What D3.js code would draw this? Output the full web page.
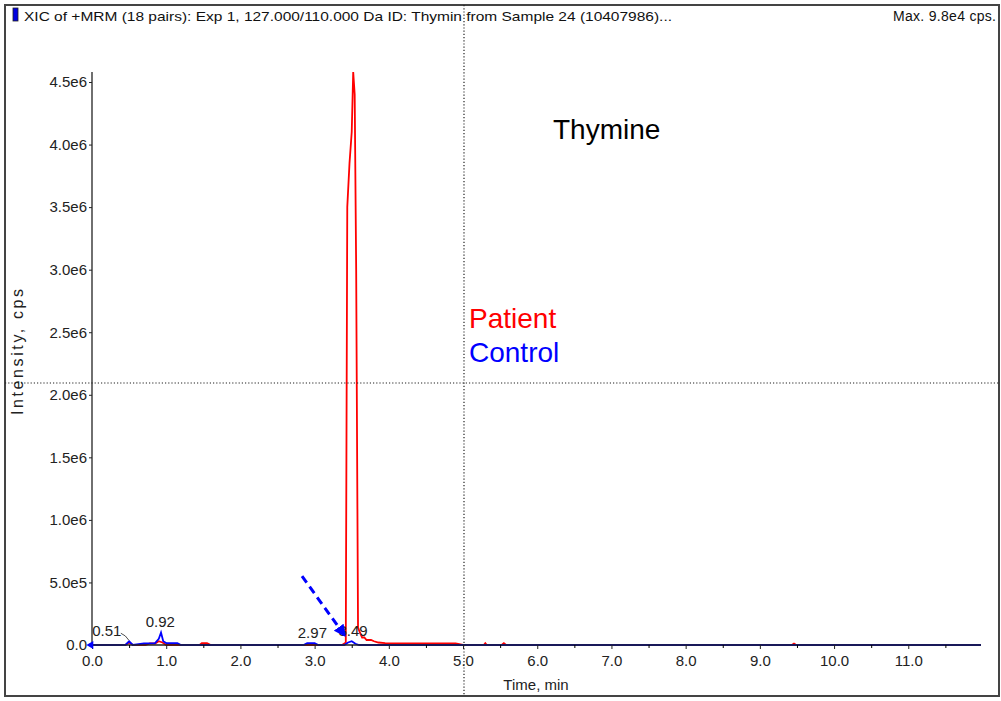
<!DOCTYPE html>
<html>
<head>
<meta charset="utf-8">
<script src="https://cdn.jsdelivr.net/npm/d3@7"></script>
<style>
  body { margin: 0; background: #fff; }
  text { font-family: "Liberation Sans", Arial, sans-serif; }
</style>
</head>
<body>
<script>
// chromatogram traces (time in min, intensity in cps)
var patientTime = [0, 0.45, 0.5, 0.55, 0.72, 0.78, 0.85, 0.9, 0.95, 1.0, 1.05, 1.45, 1.48, 1.55, 1.6, 3.3, 3.37, 3.42, 3.44, 3.47, 3.5, 3.52, 3.54, 3.56, 3.585, 3.61, 3.64, 3.67, 3.7, 3.76, 3.8, 3.86, 3.95, 4.05, 4.9, 5.0, 5.28, 5.3, 5.32, 5.52, 5.55, 5.58, 9.43, 9.46, 9.49, 11.98];
var patientCps  = [0, 0, 0.02e6, 0, 0, 0.012e6, 0.012e6, 0.03e6, 0.02e6, 0, 0, 0, 0.015e6, 0.015e6, 0, 0, 0, 0.02e6, 3.5e6, 3.85e6, 4.1e6, 4.58e6, 4.4e6, 3.0e6, 0.14e6, 0.1e6, 0.06e6, 0.06e6, 0.04e6, 0.04e6, 0.03e6, 0.02e6, 0.015e6, 0.012e6, 0.012e6, 0, 0, 0.015e6, 0, 0, 0.015e6, 0, 0, 0.012e6, 0, 0];

var controlTime = [0, 0.45, 0.5, 0.55, 0.7, 0.85, 0.9, 0.93, 0.96, 1.0, 1.15, 1.2, 2.85, 2.9, 3.0, 3.05, 3.4, 3.45, 3.5, 3.55, 3.6, 11.98];
var controlCps  = [0, 0, 0.03e6, 0, 0.012e6, 0.015e6, 0.05e6, 0.1e6, 0.03e6, 0.015e6, 0.015e6, 0, 0, 0.015e6, 0.015e6, 0, 0, 0.02e6, 0.03e6, 0.01e6, 0, 0];

var peakLabels = [
  {t: 0.51, v: 0.03e6, text: "0.51"},
  {t: 0.92, v: 0.1e6, text: "0.92"},
  {t: 2.97, v: 0.015e6, text: "2.97"},
  {t: 3.49, v: 0.03e6, text: "3.49"}
];

var xTicks = [0, 1, 2, 3, 4, 5, 6, 7, 8, 9, 10, 11];
var xTickLabels = ["0.0", "1.0", "2.0", "3.0", "4.0", "5.0", "6.0", "7.0", "8.0", "9.0", "10.0", "11.0"];
var yTicks = [0, 0.5e6, 1.0e6, 1.5e6, 2.0e6, 2.5e6, 3.0e6, 3.5e6, 4.0e6, 4.5e6];
var yTickLabels = ["0.0", "5.0e5", "1.0e6", "1.5e6", "2.0e6", "2.5e6", "3.0e6", "3.5e6", "4.0e6", "4.5e6"];

var arrowFrom = [2.83, 0.55e6];
var arrowTo = [3.40, 0.08e6];

var width = 1001, height = 701;
var margin = {top: 72, left: 92, right: 20, bottom: 56};

var svg = d3.select("body").append("svg")
    .attr("width", width)
    .attr("height", height);

var xScale = d3.scaleLinear()
    .domain([0, 11.98])
    .range([margin.left, width - margin.right]);

var yScale = d3.scaleLinear()
    .domain([0, 4.58e6])
    .range([height - margin.bottom, margin.top]);

// outer frame
svg.append("rect")
    .attr("x", 5).attr("y", 5)
    .attr("width", 994).attr("height", 691)
    .attr("fill", "none")
    .attr("stroke", "#444")
    .attr("stroke-width", 2);

// title bar
svg.append("rect")
    .attr("x", 13).attr("y", 8)
    .attr("width", 5).attr("height", 13)
    .attr("fill", "#0000e0")
    .attr("stroke", "#222")
    .attr("stroke-width", 0.8);

svg.append("text")
    .attr("x", 24).attr("y", 21)
    .attr("textLength", 648)
    .attr("lengthAdjust", "spacingAndGlyphs")
    .style("font-size", "13px")
    .attr("fill", "#111")
    .text("XIC of +MRM (18 pairs): Exp 1, 127.000/110.000 Da ID: Thymin from Sample 24 (10407986)...");

svg.append("text")
    .attr("x", 996).attr("y", 21)
    .attr("text-anchor", "end")
    .attr("textLength", 103)
    .style("font-size", "14px")
    .attr("fill", "#111")
    .text("Max. 9.8e4 cps.");

// traces
var line = d3.line()
    .x(function(d) { return xScale(d[0]); })
    .y(function(d) { return yScale(d[1]); });

var patient = patientTime.map(function(t, i) { return [t, patientCps[i]]; });
var control = controlTime.map(function(t, i) { return [t, controlCps[i]]; });

svg.append("path")
    .datum(patient)
    .attr("fill", "none")
    .attr("stroke", "#ff0000")
    .attr("stroke-width", 1.8)
    .attr("d", line);

svg.append("path")
    .datum(control)
    .attr("fill", "none")
    .attr("stroke", "#0000ff")
    .attr("stroke-width", 1.8)
    .attr("d", line);

// axes
var xAxis = svg.append("g")
    .attr("transform", `translate(0,${height - margin.bottom})`)
    .call(d3.axisBottom(xScale).tickValues(xTicks).tickSize(4)
        .tickFormat(function(d, i) { return xTickLabels[i]; }));

var yAxis = svg.append("g")
    .attr("transform", `translate(${margin.left},0)`)
    .call(d3.axisLeft(yScale).tickValues(yTicks).tickSize(3)
        .tickFormat(function(d, i) { return yTickLabels[i]; }));

// minor x ticks at half minutes
svg.append("g")
    .attr("transform", `translate(0,${height - margin.bottom})`)
    .call(d3.axisBottom(xScale).tickValues(xTicks.map(function(d) { return d + 0.5; })).tickSize(3).tickFormat(""))
    .select(".domain").remove();

[xAxis, yAxis].forEach(function(a) {
  a.select(".domain").attr("stroke", "#222").attr("stroke-width", 1.3);
  a.selectAll(".tick line").attr("stroke", "#222");
  a.selectAll(".tick text")
    .style("font-size", "15px")
    .style("font-family", "'Liberation Sans', Arial, sans-serif")
    .attr("fill", "#222");
});
xAxis.select(".domain").attr("d", `M${margin.left},0H${width - margin.right}`);
yAxis.select(".domain").attr("d", `M0,${height - margin.bottom}V${margin.top}`);
xAxis.selectAll(".tick text").attr("dy", "0.9em");
yAxis.selectAll(".tick text").attr("x", -5);

// origin marker
svg.append("path")
    .attr("d", d3.symbol().type(d3.symbolTriangle).size(28))
    .attr("transform", `translate(${xScale(0) - 1},${yScale(0)}) rotate(-90)`)
    .attr("fill", "#0000ff");

// peak labels
svg.selectAll(".peak")
    .data(peakLabels)
    .enter().append("text")
    .attr("class", "peak")
    .attr("x", function(d) { return d.text === "0.51" ? xScale(d.t) - 23 : xScale(d.t) + (d.text === "3.49" ? 2 : 0); })
    .attr("y", function(d) { return yScale(d.v) - 5; })
    .attr("text-anchor", "middle")
    .style("font-size", "15px")
    .attr("fill", "#222")
    .text(function(d) { return d.text; });

// leader for 0.51
var l51 = peakLabels[0];
svg.append("path")
    .attr("d", `M${xScale(l51.t) - 9},${yScale(l51.v) - 8} Q${xScale(l51.t) - 4},${yScale(l51.v) - 6} ${xScale(l51.t) - 1},${yScale(l51.v) - 1}`)
    .attr("fill", "none")
    .attr("stroke", "#222")
    .attr("stroke-width", 0.8);

// dashed arrow
svg.append("defs").append("marker")
    .attr("id", "head")
    .attr("viewBox", "0 0 10 10")
    .attr("refX", 8).attr("refY", 5)
    .attr("markerWidth", 4).attr("markerHeight", 4)
    .attr("orient", "auto")
    .append("path")
    .attr("d", "M0,0L10,5L0,10Z")
    .attr("fill", "#0000ff");

svg.append("line")
    .attr("x1", xScale(arrowFrom[0])).attr("y1", yScale(arrowFrom[1]))
    .attr("x2", xScale(arrowTo[0])).attr("y2", yScale(arrowTo[1]))
    .attr("stroke", "#0000ff")
    .attr("stroke-width", 3)
    .style("stroke-dasharray", "8,5")
    .attr("marker-end", "url(#head)");

// crosshair
svg.append("line")
    .attr("x1", 464).attr("x2", 464).attr("y1", 5).attr("y2", 696)
    .attr("stroke", "#222").attr("stroke-width", 1.2)
    .style("stroke-dasharray", "1.2,2");
svg.append("line")
    .attr("x1", 5).attr("x2", 999).attr("y1", 383).attr("y2", 383)
    .attr("stroke", "#222").attr("stroke-width", 1.2)
    .style("stroke-dasharray", "1.2,2");

// annotations
svg.append("text")
    .attr("x", 553).attr("y", 139)
    .style("font-size", "28px")
    .attr("fill", "#000")
    .text("Thymine");
svg.append("text")
    .attr("x", 469).attr("y", 328)
    .style("font-size", "28px")
    .attr("fill", "#ff0000")
    .text("Patient");
svg.append("text")
    .attr("x", 469).attr("y", 362)
    .style("font-size", "28px")
    .attr("fill", "#0000ff")
    .text("Control");

// axis titles
svg.append("text")
    .attr("x", 536).attr("y", 690)
    .attr("text-anchor", "middle")
    .style("font-size", "15px")
    .attr("fill", "#222")
    .text("Time, min");

svg.append("text")
    .attr("transform", "translate(23,352) rotate(-90)")
    .attr("text-anchor", "middle")
    .attr("textLength", 126)
    .style("font-size", "16px")
    .attr("fill", "#222")
    .text("Intensity, cps");
</script>
</body>
</html>
